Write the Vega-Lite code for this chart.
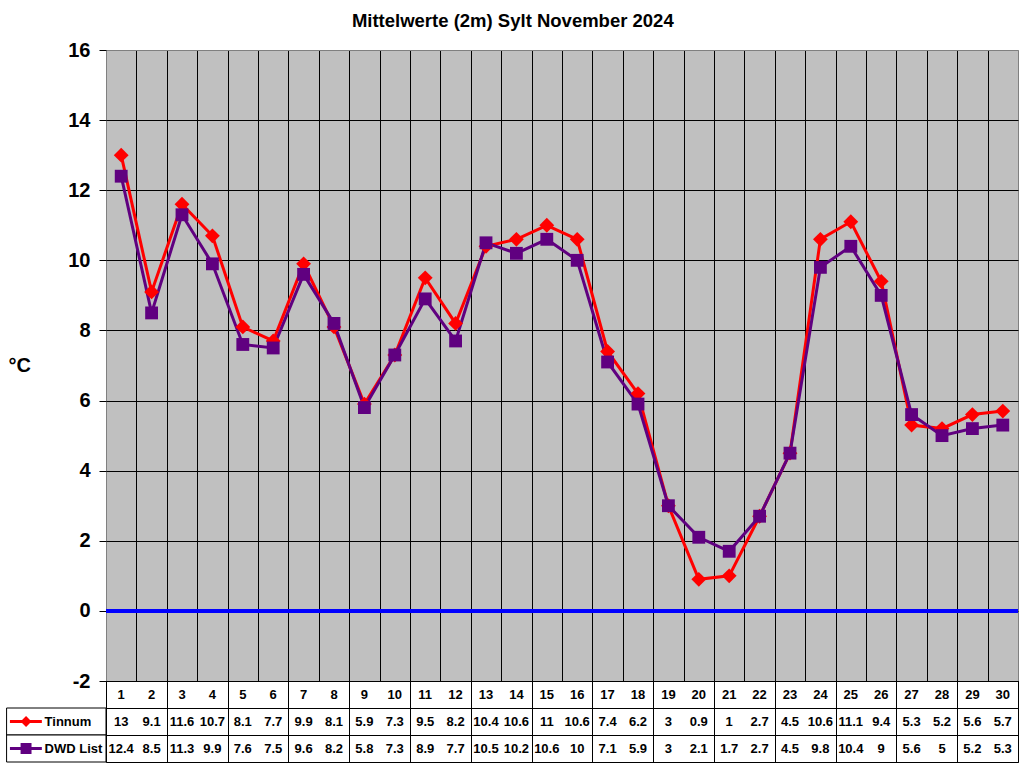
{
  "$schema": "https://vega.github.io/schema/vega-lite/v6.json",
  "background": "white",
  "padding": {"left": 5, "top": 12, "right": 6, "bottom": 6},
  "bounds": "flush",
  "config": {"font": "Liberation Sans", "view": {"stroke": null}},
  "title": {"text": "Mittelwerte (2m) Sylt November 2024", "fontSize": 18.5, "fontWeight": "bold", "font": "Liberation Sans", "color": "black", "offset": 9, "anchor": "middle"},
  "spacing": 0,
  "data": {"values": [
    {"day": 1, "series": "Tinnum", "value": 13}, {"day": 2, "series": "Tinnum", "value": 9.1}, {"day": 3, "series": "Tinnum", "value": 11.6}, {"day": 4, "series": "Tinnum", "value": 10.7}, {"day": 5, "series": "Tinnum", "value": 8.1},
    {"day": 6, "series": "Tinnum", "value": 7.7}, {"day": 7, "series": "Tinnum", "value": 9.9}, {"day": 8, "series": "Tinnum", "value": 8.1}, {"day": 9, "series": "Tinnum", "value": 5.9}, {"day": 10, "series": "Tinnum", "value": 7.3},
    {"day": 11, "series": "Tinnum", "value": 9.5}, {"day": 12, "series": "Tinnum", "value": 8.2}, {"day": 13, "series": "Tinnum", "value": 10.4}, {"day": 14, "series": "Tinnum", "value": 10.6}, {"day": 15, "series": "Tinnum", "value": 11},
    {"day": 16, "series": "Tinnum", "value": 10.6}, {"day": 17, "series": "Tinnum", "value": 7.4}, {"day": 18, "series": "Tinnum", "value": 6.2}, {"day": 19, "series": "Tinnum", "value": 3}, {"day": 20, "series": "Tinnum", "value": 0.9},
    {"day": 21, "series": "Tinnum", "value": 1}, {"day": 22, "series": "Tinnum", "value": 2.7}, {"day": 23, "series": "Tinnum", "value": 4.5}, {"day": 24, "series": "Tinnum", "value": 10.6}, {"day": 25, "series": "Tinnum", "value": 11.1},
    {"day": 26, "series": "Tinnum", "value": 9.4}, {"day": 27, "series": "Tinnum", "value": 5.3}, {"day": 28, "series": "Tinnum", "value": 5.2}, {"day": 29, "series": "Tinnum", "value": 5.6}, {"day": 30, "series": "Tinnum", "value": 5.7},
    {"day": 1, "series": "DWD List", "value": 12.4}, {"day": 2, "series": "DWD List", "value": 8.5}, {"day": 3, "series": "DWD List", "value": 11.3}, {"day": 4, "series": "DWD List", "value": 9.9}, {"day": 5, "series": "DWD List", "value": 7.6},
    {"day": 6, "series": "DWD List", "value": 7.5}, {"day": 7, "series": "DWD List", "value": 9.6}, {"day": 8, "series": "DWD List", "value": 8.2}, {"day": 9, "series": "DWD List", "value": 5.8}, {"day": 10, "series": "DWD List", "value": 7.3},
    {"day": 11, "series": "DWD List", "value": 8.9}, {"day": 12, "series": "DWD List", "value": 7.7}, {"day": 13, "series": "DWD List", "value": 10.5}, {"day": 14, "series": "DWD List", "value": 10.2}, {"day": 15, "series": "DWD List", "value": 10.6},
    {"day": 16, "series": "DWD List", "value": 10}, {"day": 17, "series": "DWD List", "value": 7.1}, {"day": 18, "series": "DWD List", "value": 5.9}, {"day": 19, "series": "DWD List", "value": 3}, {"day": 20, "series": "DWD List", "value": 2.1},
    {"day": 21, "series": "DWD List", "value": 1.7}, {"day": 22, "series": "DWD List", "value": 2.7}, {"day": 23, "series": "DWD List", "value": 4.5}, {"day": 24, "series": "DWD List", "value": 9.8}, {"day": 25, "series": "DWD List", "value": 10.4},
    {"day": 26, "series": "DWD List", "value": 9}, {"day": 27, "series": "DWD List", "value": 5.6}, {"day": 28, "series": "DWD List", "value": 5}, {"day": 29, "series": "DWD List", "value": 5.2}, {"day": 30, "series": "DWD List", "value": 5.3}
  ]},
  "vconcat": [
    {
      "width": 912,
      "height": 631,
      "view": {"fill": "#C0C0C0", "stroke": "#808080"},
      "encoding": {
        "x": {"field": "day", "type": "quantitative", "scale": {"domain": [0.5, 30.5], "nice": false, "zero": false},
          "axis": {"values": [1.5, 2.5, 3.5, 4.5, 5.5, 6.5, 7.5, 8.5, 9.5, 10.5, 11.5, 12.5, 13.5, 14.5, 15.5, 16.5, 17.5, 18.5, 19.5, 20.5, 21.5, 22.5, 23.5, 24.5, 25.5, 26.5, 27.5, 28.5, 29.5],
            "grid": true, "gridColor": "black", "gridOpacity": 1, "gridWidth": 1, "labels": false, "ticks": false, "domain": false, "title": null}},
        "y": {"field": "value", "type": "quantitative", "scale": {"domain": [-2, 16], "nice": false, "zero": false},
          "axis": {"values": [-2, 0, 2, 4, 6, 8, 10, 12, 14, 16], "grid": true,
            "gridColor": {"condition": {"test": "datum.value == 16", "value": "#808080"}, "value": "black"},
            "gridOpacity": 1, "gridWidth": 1, "domain": false, "ticks": true, "tickColor": "black", "tickSize": 7,
            "labelExpr": "'' + datum.value",
            "labelFontSize": 20, "labelFontWeight": "bold", "labelColor": "black", "labelPadding": 9, "labelFont": "Liberation Sans",
            "title": "°C", "titleAngle": 0, "titleAlign": "left", "titleBaseline": "middle", "titleX": -98, "titleY": 315,
            "titleFontSize": 20, "titleFontWeight": "bold", "titleColor": "black", "titleFont": "Liberation Sans"}},
        "color": {"field": "series", "type": "nominal", "scale": {"domain": ["Tinnum", "DWD List"], "range": ["#FF0000", "#600080"]}, "legend": null}
      },
      "layer": [
        {"mark": {"type": "rule", "color": "#0000FF", "strokeWidth": 3}, "encoding": {"y": {"datum": 0}, "x": null, "color": null}},
        {"mark": {"type": "line", "strokeWidth": 3}},
        {"mark": {"type": "point", "filled": true, "opacity": 1},
          "encoding": {
            "shape": {"field": "series", "type": "nominal", "scale": {"domain": ["Tinnum", "DWD List"], "range": ["diamond", "square"]}, "legend": null},
            "size": {"field": "series", "type": "nominal", "scale": {"domain": ["Tinnum", "DWD List"], "range": [220, 165]}, "legend": null}
          }}
      ]
    },
    {
      "width": 912,
      "height": 81,
      "view": {"stroke": "black", "fill": "white"},
      "layer": [
        {"transform": [{"filter": "datum.series == 'Tinnum'"}],
          "mark": {"type": "text", "fontSize": 13, "fontWeight": "bold", "color": "black", "font": "Liberation Sans"},
          "encoding": {
            "x": {"field": "day", "type": "quantitative", "scale": {"domain": [0.5, 30.5], "nice": false, "zero": false},
              "axis": {"values": [0.5, 1.5, 2.5, 3.5, 4.5, 5.5, 6.5, 7.5, 8.5, 9.5, 10.5, 11.5, 12.5, 13.5, 14.5, 15.5, 16.5, 17.5, 18.5, 19.5, 20.5, 21.5, 22.5, 23.5, 24.5, 25.5, 26.5, 27.5, 28.5, 29.5, 30.5],
                "grid": true, "gridColor": "black", "gridOpacity": 1, "gridWidth": 1, "labels": false, "ticks": false, "domain": false, "title": null}},
            "y": {"datum": "Tag", "type": "nominal", "scale": {"type": "band", "domain": ["Tag", "Tinnum", "DWD List"], "paddingInner": 0, "paddingOuter": 0},
              "axis": {"grid": true, "bandPosition": 0, "gridColor": "black", "gridOpacity": 1, "gridWidth": 1, "labels": false, "ticks": false, "domain": false, "title": null}},
            "text": {"field": "day", "type": "quantitative"}
          }},
        {"mark": {"type": "text", "fontSize": 13, "fontWeight": "bold", "color": "black", "font": "Liberation Sans"},
          "encoding": {
            "x": {"field": "day", "type": "quantitative"},
            "y": {"field": "series", "type": "nominal"},
            "text": {"field": "value", "type": "quantitative"}
          }},
        {"transform": [{"filter": "datum.day == 1"}],
          "mark": {"type": "rect", "fill": "white", "stroke": "black", "strokeWidth": 1},
          "encoding": {
            "x": {"datum": -2.77, "type": "quantitative"},
            "x2": {"datum": 0.5},
            "y": {"field": "series", "type": "nominal"}
          }},
        {"transform": [{"filter": "datum.day == 1"}],
          "mark": {"type": "rule", "strokeWidth": 3},
          "encoding": {
            "x": {"datum": -2.66, "type": "quantitative"},
            "x2": {"datum": -1.61},
            "y": {"field": "series", "type": "nominal"},
            "color": {"field": "series", "type": "nominal", "scale": {"domain": ["Tinnum", "DWD List"], "range": ["#FF0000", "#600080"]}, "legend": null}
          }},
        {"transform": [{"filter": "datum.day == 1"}],
          "mark": {"type": "point", "filled": true, "opacity": 1, "size": 120},
          "encoding": {
            "x": {"datum": -2.13, "type": "quantitative"},
            "y": {"field": "series", "type": "nominal"},
            "color": {"field": "series", "type": "nominal", "legend": null},
            "shape": {"field": "series", "type": "nominal", "scale": {"domain": ["Tinnum", "DWD List"], "range": ["diamond", "square"]}, "legend": null}
          }},
        {"transform": [{"filter": "datum.day == 1"}],
          "mark": {"type": "text", "align": "left", "fontSize": 13, "fontWeight": "bold", "color": "black", "font": "Liberation Sans"},
          "encoding": {
            "x": {"datum": -1.52, "type": "quantitative"},
            "y": {"field": "series", "type": "nominal"},
            "text": {"field": "series", "type": "nominal"}
          }}
      ]
    }
  ]
}
